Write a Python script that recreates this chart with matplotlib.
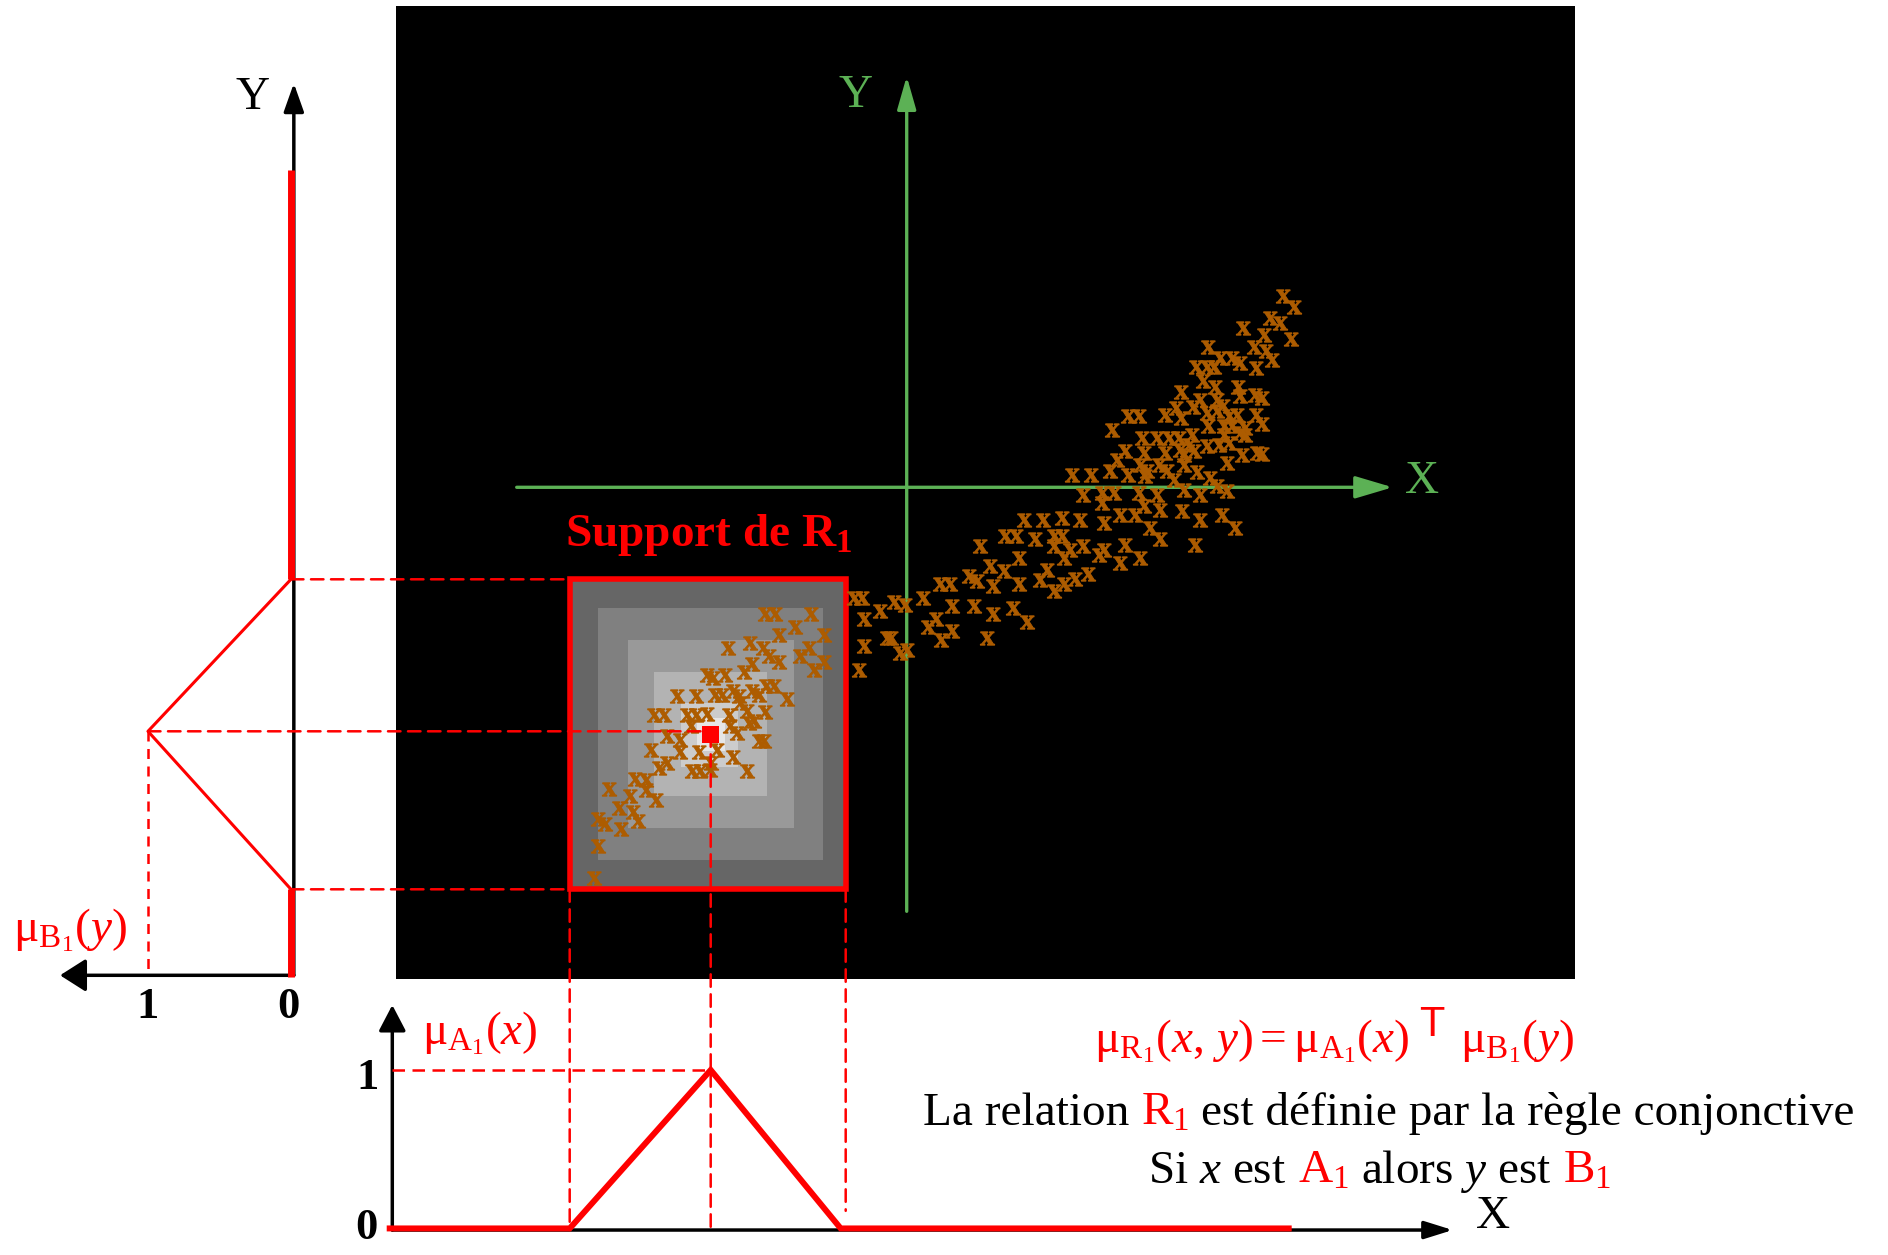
import matplotlib
matplotlib.use('Agg')
import matplotlib.pyplot as plt
from matplotlib.patches import Rectangle, ConnectionPatch

plt.rcParams['font.family'] = ['Liberation Serif', 'DejaVu Serif']
plt.rcParams['mathtext.fontset'] = 'custom'
plt.rcParams['mathtext.rm'] = 'Liberation Serif'
plt.rcParams['mathtext.it'] = 'Liberation Serif:italic'
plt.rcParams['mathtext.bf'] = 'Liberation Serif:bold'
plt.rcParams['mathtext.sf'] = 'Liberation Sans'

# ---------------- data ----------------
# triangular membership functions: left foot, peak, right foot
A1 = [-33.7, -19.6, -6.6]
B1 = [-40.2, -24.4, -9.2]
support_x = [-33.7, -6.1]
support_y = [-40.2, -9.2]
x_universe = [-51.7, 38.2]
y_universe = [-48.8, 31.7]
# alpha-cut rectangles of the relation R1 (outer -> inner)
cut_x0 = [-30.9, -27.9, -25.3, -22.6, -21.0]
cut_x1 = [-8.4, -11.3, -14.0, -16.9, -18.2]
cut_y0 = [-37.3, -34.1, -30.9, -28.0, -26.4]
cut_y1 = [-12.1, -15.3, -18.5, -21.6, -23.1]
cut_gray = ['#808080', '#999999', '#b3b3b3', '#cccccc', '#e6e6e6']
core = [-19.6, -24.7]

obs_x = [37.6, 38.7, 36.3, 37.3, 33.6, 35.7, 38.4, 34.7, 35.9, 36.5,
         30.1, 31.3, 32.5, 33.3, 28.9, 30.0, 30.7, 34.9, 29.6, 30.8,
         33.1, 27.4, 26.9, 28.6, 29.3, 31.0, 31.6, 33.3, 34.8, 35.5,
         25.8, 27.4, 30.0, 31.0, 32.2, 33.0, 34.9, 22.1, 23.2, 20.5,
         30.1, 31.7, 32.5, 33.8, 35.5, 23.5, 25.0, 26.2, 27.2, 28.5,
         31.7, 33.3, 33.8, 28.2, 30.0, 31.2, 32.2, 21.8, 23.7, 25.8,
         27.3, 28.7, 27.7, 33.5, 35.0, 35.5, 21.0, 23.3, 25.2, 27.7,
         32.0, 26.0, 20.3, 24.0, 16.5, 18.4, 22.1, 23.8, 26.7, 29.0,
         30.3, 31.0, 32.0, 27.7, 29.3, 17.6, 19.5, 20.7, 23.2, 25.0,
         19.5, 23.7, 25.3, 27.5, 11.7, 13.6, 15.5, 17.3, 21.3, 22.8,
         29.3, 31.5, 32.8, 19.7, 24.3, 9.8, 10.9, 12.8, 14.7, 15.5,
         25.3, 28.8, 7.3, 11.2, 14.7, 16.3, 17.6, 19.2, 19.7, 21.8,
         23.3, 21.3, 15.7, 8.3, 9.7, 6.2, 7.0, 14.0, 13.3, 8.6,
         11.2, 16.8, 18.1, 15.7, 14.7, 3.3, 4.3, 1.6, -1.3, -0.2,
         -2.7, -4.3, 4.5, 6.7, 10.6, 8.6, 12.0, 2.9, 2.1, -2.0,
         -1.6, -4.3, 4.5, 3.4, 8.0, -0.7, 0.0, -4.8, -5.3, -4.5,
         -14.2, -13.2, -9.6, -11.2, -12.8, -8.3, -17.9, -15.7, -14.4, -13.8,
         -12.8, -10.7, -9.8, -9.3, -8.3, -15.5, -16.3, -20.0, -19.4, -18.2,
         -23.0, -21.1, -19.2, -18.5, -17.4, -16.8, -15.5, -14.8, -14.1, -13.3,
         -12.0, -16.7, -25.3, -24.3, -22.0, -21.1, -20.0, -17.8, -16.0, -14.2,
         -21.6, -17.7, -15.8, -15.3, -24.0, -22.7, -17.0, -14.8, -14.3, -25.6,
         -22.7, -20.8, -19.0, -17.4, -19.6, -24.8, -24.0, -21.5, -20.7, -19.7,
         -16.0, -27.2, -26.1, -26.1, -29.8, -27.7, -25.1, -28.8, -27.4, -30.9,
         -30.2, -26.9, -28.6, -30.9, -31.3]
obs_y = [19.1, 18.0, 16.9, 16.4, 15.9, 15.2, 14.8, 14.0, 13.6, 12.7,
         14.0, 12.9, 12.9, 12.4, 12.0, 12.0, 12.0, 11.9, 10.6, 10.0,
         10.0, 9.5, 7.9, 8.0, 8.7, 8.7, 8.1, 9.1, 9.2, 8.9,
         7.2, 6.9, 7.4, 7.6, 7.1, 7.2, 7.2, 7.1, 7.1, 5.7,
         6.1, 6.1, 6.1, 5.9, 6.3, 4.9, 4.9, 4.9, 4.9, 5.2,
         5.2, 5.4, 5.2, 4.2, 4.1, 4.2, 4.4, 3.6, 3.4, 3.4,
         3.7, 3.6, 3.2, 3.2, 3.4, 3.3, 2.7, 2.2, 2.2, 2.2,
         2.4, 1.6, 1.6, 1.6, 1.2, 1.2, 1.2, 1.1, 0.7, 1.5,
         0.9, 0.1, -0.4, -0.3, -0.8, -0.8, -0.6, -0.6, -0.6, -0.8,
         -1.6, -1.9, -2.3, -2.4, -3.3, -3.3, -3.1, -3.3, -2.8, -2.8,
         -3.3, -2.8, -4.1, -3.6, -4.1, -4.9, -4.9, -5.2, -4.9, -4.9,
         -5.2, -5.8, -5.9, -7.1, -5.9, -6.3, -5.9, -6.8, -6.3, -5.8,
         -7.1, -7.6, -7.1, -7.9, -8.4, -8.9, -9.4, -8.3, -9.3, -9.9,
         -9.7, -9.2, -8.7, -9.7, -10.4, -9.7, -9.7, -11.1, -11.5, -11.8,
         -12.4, -13.2, -11.9, -11.9, -12.1, -12.7, -13.5, -13.2, -14.0, -15.1,
         -15.1, -15.9, -14.4, -15.3, -15.1, -16.6, -16.3, -18.3, -11.1, -11.1,
         -12.7, -12.7, -12.7, -14.0, -14.8, -14.8, -16.1, -15.6, -16.1, -16.9,
         -17.5, -16.9, -16.1, -18.3, -17.5, -17.7, -18.5, -18.8, -19.1, -18.8,
         -20.9, -20.9, -20.8, -20.8, -20.4, -20.9, -20.4, -20.8, -19.9, -19.9,
         -21.2, -21.6, -22.8, -22.8, -22.8, -22.8, -22.7, -22.8, -22.4, -22.5,
         -23.9, -23.9, -23.6, -23.4, -24.9, -25.3, -24.6, -25.4, -25.4, -26.3,
         -26.5, -26.5, -26.3, -27.0, -27.6, -28.1, -27.6, -28.4, -28.4, -28.3,
         -28.4, -29.2, -29.3, -30.3, -30.2, -30.9, -31.3, -32.1, -32.5, -33.2,
         -33.7, -33.4, -34.2, -35.9, -39.1]

# ---------------- figure ----------------
W, H = 1888, 1255
fig = plt.figure(figsize=(W / 100, H / 100), dpi=100)
RED = '#ff0000'
GREEN = '#5cb155'
ORANGE = '#ad5c00'


def box(x0, y0, x1, y1):
    return [x0 / W, 1 - y1 / H, (x1 - x0) / W, (y1 - y0) / H]


def arrow(ax, start, end, color, lw, hl_px, w_px):
    hl = hl_px * 0.72 / 20
    hw = (w_px / 2) * 0.72 / 20
    ax.annotate('', xy=end, xytext=start, annotation_clip=False,
                arrowprops=dict(arrowstyle=f'-|>,head_length={hl},head_width={hw}',
                                color=color, lw=lw, shrinkA=0, shrinkB=0,
                                mutation_scale=20))


# main relation plane
ax = fig.add_axes(box(396, 6, 1575, 979))
ax.set_facecolor('black')
ax.set_xticks([]); ax.set_yticks([])
for s in ax.spines.values():
    s.set_visible(False)
ax.set_xlim(-51.07, 66.83)
ax.set_ylim(-49.17, 48.13)

arrow(ax, (-39.0, 0), (48.6, 0), GREEN, 2.4, 32, 19)
arrow(ax, (0, -42.4), (0, 41.1), GREEN, 2.4, 28, 16)
ax.text(51.5, 0.6, 'X', color=GREEN, fontsize=34, ha='center', va='center')
ax.text(-5.1, 39.2, 'Y', color=GREEN, fontsize=34, ha='center', va='center')

ax.add_patch(Rectangle((support_x[0], support_y[0]), support_x[1] - support_x[0],
                       support_y[1] - support_y[0], facecolor='#666666',
                       edgecolor=RED, lw=4, zorder=2))
for x0, x1, y0, y1, g in zip(cut_x0, cut_x1, cut_y0, cut_y1, cut_gray):
    ax.add_patch(Rectangle((x0, y0), x1 - x0, y1 - y0, facecolor=g,
                           edgecolor='none', zorder=2.1))
ax.scatter(obs_x, obs_y, marker=r'$\mathbf{x}$', s=105, color=ORANGE,
           edgecolors=ORANGE, linewidths=0.7, zorder=3)
ax.add_patch(Rectangle((core[0] - 0.85, core[1] - 0.85), 1.7, 1.7,
                       facecolor=RED, edgecolor='none', zorder=4))
ax.text(-34.2, -5.9, r'Support de $\mathbf{R}_{\mathbf{1}}$', color=RED,
        fontsize=34, fontweight='bold', ha='left', va='baseline')

# left membership plot (B1)
axl = fig.add_axes(box(0, 60, 320, 1040))
axl.set_xlim(2.035, -0.203)
axl.set_ylim(-55.27, 42.73)
axl.axis('off')
arrow(axl, (-0.02, y_universe[0]), (-0.02, 40.4), 'black', 2.5, 24, 17)
arrow(axl, (-0.02, y_universe[0]), (1.615, y_universe[0]), 'black', 2.5, 22, 28)
axl.plot([0, 0], [B1[2], y_universe[1]], color=RED, lw=5, solid_capstyle='butt', zorder=4)
axl.plot([0, 0], [y_universe[0] - 0.2, B1[0]], color=RED, lw=5, solid_capstyle='butt', zorder=4)
axl.plot([0, 1, 0], [B1[2], B1[1], B1[0]], color=RED, lw=2.2, zorder=4)
axl.plot([1, 1], [B1[1], y_universe[0]], color=RED, lw=1.8, dashes=(4, 3), zorder=4)
axl.text(0.27, 39.0, 'Y', fontsize=34, ha='center', va='center')
axl.text(1.0, -52.0, '1', fontsize=32, fontweight='bold', ha='center', va='center')
axl.text(0.02, -52.0, '0', fontsize=32, fontweight='bold', ha='center', va='center')
axl.text(1.545, -44.3, r'$\mathrm{μ}_{\mathrm{B}_{1}}(\mathit{y})$', color=RED,
         fontsize=34, ha='center', va='center')

# bottom membership plot (A1)
axb = fig.add_axes(box(360, 990, 1530, 1255))
axb.set_xlim(-54.67, 62.33)
axb.set_ylim(-0.156, 1.5)
axb.axis('off')
arrow(axb, (-51.44, 0), (54.6, 0), 'black', 2.5, 24, 15)
arrow(axb, (-51.44, 0), (-51.44, 1.406), 'black', 2.5, 22, 23)
axb.plot([x_universe[0], A1[0], A1[1], A1[2], x_universe[1]], [0.01, 0.01, 1, 0.01, 0.01],
         color=RED, lw=4.3, solid_joinstyle='miter', zorder=4)
axb.plot([-51.44, A1[1]], [1, 1], color=RED, lw=1.8, dashes=(5, 3), zorder=4)
axb.text(-53.9, 0.95, '1', fontsize=32, fontweight='bold', ha='center', va='center')
axb.text(-54.0, 0.01, '0', fontsize=32, fontweight='bold', ha='center', va='center')
axb.text(-42.7, 1.23, r'$\mathrm{μ}_{\mathrm{A}_{1}}(\mathit{x})$', color=RED,
         fontsize=34, ha='center', va='center')
axb.text(58.6, 0.08, 'X', fontsize=34, ha='center', va='center')

# projection lines
def link(xyA, axA, xyB, axB):
    cp = ConnectionPatch(xyA=xyA, coordsA=axA.transData, xyB=xyB,
                         coordsB=axB.transData, color=RED, lw=1.8,
                         linestyle=(0, (5, 3)), zorder=5)
    fig.add_artist(cp)

link((0, support_y[1]), axl, (support_x[0], support_y[1]), ax)
link((0, support_y[0]), axl, (support_x[0], support_y[0]), ax)
link((1, B1[1]), axl, (core[0], B1[1]), ax)
link((support_x[0], support_y[0]), ax, (support_x[0], 0), axb)
link((core[0], core[1]), ax, (core[0], 0), axb)
link((support_x[1], support_y[0]), ax, (support_x[1], 0.12), axb)

# text block
def rich(pieces, xc, yb, size):
    r = fig.canvas.get_renderer()
    arts, ws = [], []
    for p in pieces:
        s, c = p[0], p[1]
        kw = p[2] if len(p) > 2 else {}
        t = fig.text(0, 0, s, color=c, fontsize=kw.get('size', size),
                     family=kw.get('family', ['Liberation Serif', 'DejaVu Serif']),
                     ha='left', va='baseline')
        ws.append(t.get_window_extent(r).width)
        arts.append((t, kw.get('dy', 0), kw.get('gap', 1.0)))
    gap = 0.25 * size * 100 / 72
    total = sum(ws) + sum(g * gap for _, _, g in arts[1:])
    x = xc - total / 2
    for i, ((t, dy, g), w) in enumerate(zip(arts, ws)):
        if i > 0:
            x += g * gap
        t.set_position((x / W, 1 - (yb - dy) / H))
        x += w

rich([(r'$\mathrm{μ}_{\mathrm{R}_{1}}(\mathit{x},\,\mathit{y}) = \mathrm{μ}_{\mathrm{A}_{1}}(\mathit{x})$', RED),
      ('T', RED, {'family': 'Liberation Sans', 'size': 30, 'dy': 16, 'gap': 0.8}),
      (r'$\mathrm{μ}_{\mathrm{B}_{1}}(\mathit{y})$', RED, {'gap': 1.3})], 1334, 1052, 34)
rich([('La relation', 'black'), (r'$\mathrm{R}_{1}$', RED),
      ('est définie par la règle conjonctive', 'black')], 1389, 1125, 34)
rich([(r'Si $\mathit{x}$ est', 'black'), (r'$\mathrm{A}_{1}$', RED),
      (r'alors $\mathit{y}$ est', 'black'), (r'$\mathrm{B}_{1}$', RED)], 1380, 1183, 34)

fig.savefig('out.png', dpi=100)
